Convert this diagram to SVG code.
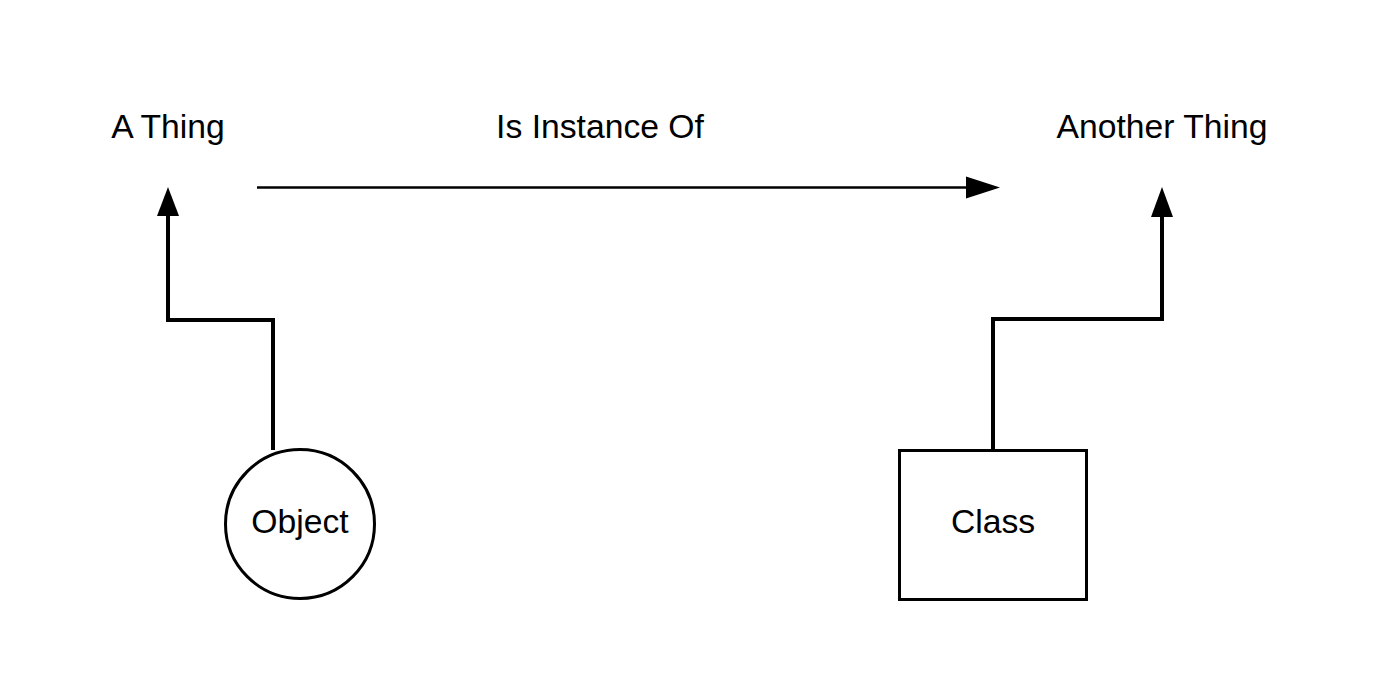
<svg xmlns="http://www.w3.org/2000/svg" width="1388" height="675" viewBox="0 0 1388 675">
<defs>
<style>
.lbl{font-family:"Liberation Sans",Arial,sans-serif;font-size:33.7px;fill:#000;text-anchor:middle}
.conn{fill:none;stroke:#000;stroke-linejoin:miter;stroke-linecap:butt}
.head{fill:#000;stroke:none}
.shape{fill:#fff;stroke:#000;stroke-width:3}
</style>
</defs>
<rect width="1388" height="675" fill="#fff"/>
<g id="connectors">
<path class="conn" d="M273 450 V320 H168 V214" stroke-width="4"/>
<polygon class="head" points="168,187 157,216 179,216"/>
<path class="conn" d="M993 450 V319 H1162 V214" stroke-width="4"/>
<polygon class="head" points="1162,187 1151,217 1173,217"/>
<path class="conn" d="M257 187.5 H968" stroke-width="2.5"/>
<polygon class="head" points="1000,187.5 966,176.5 966,198.5"/>
</g>
<g id="label-is-instance-of"><text class="lbl" x="600" y="138">Is Instance Of</text></g>
<g id="node-a-thing"><text class="lbl" x="168" y="138">A Thing</text></g>
<g id="node-another-thing"><text class="lbl" x="1162" y="138">Another Thing</text></g>
<g id="node-object">
<circle class="shape" cx="300" cy="524" r="74.5"/>
<text class="lbl" x="300" y="533">Object</text>
</g>
<g id="node-class">
<rect class="shape" x="899.5" y="450.5" width="187" height="149"/>
<text class="lbl" x="993" y="533">Class</text>
</g>
</svg>
